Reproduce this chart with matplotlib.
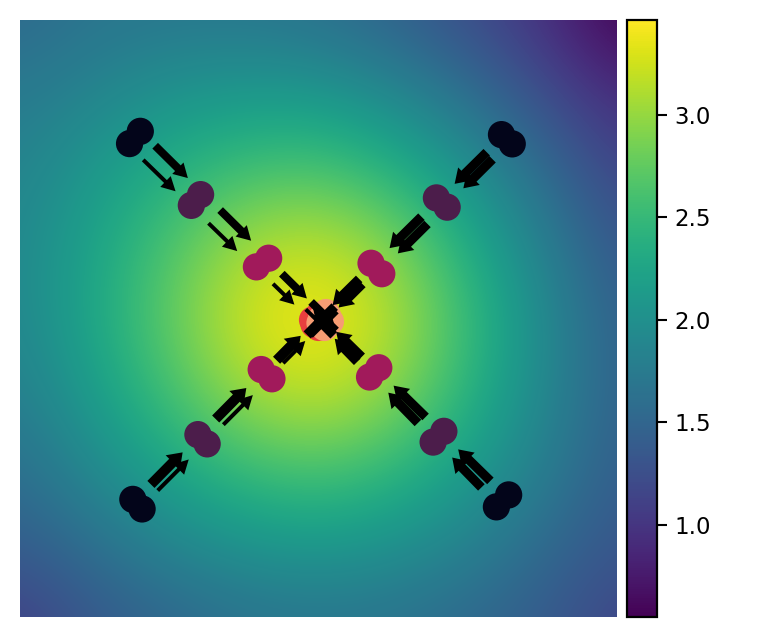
import numpy as np
import matplotlib
matplotlib.use("Agg")
import matplotlib.pyplot as plt
import seaborn as sns

# ---------------- data ----------------
# background field sampled on a 9x9 grid, x = -1..1 (step .25), rows from y=+1 (top) to y=-1 (bottom)
field_rows = [
    [1.55, 1.68, 1.71, 1.71, 1.64, 1.48, 1.24, 0.97, 0.55],
    [1.74, 1.87, 2.04, 2.11, 2.09, 1.91, 1.63, 1.25, 0.92],
    [1.84, 2.10, 2.36, 2.58, 2.64, 2.40, 2.01, 1.58, 1.14],
    [1.90, 2.24, 2.64, 3.07, 3.21, 2.92, 2.35, 1.81, 1.33],
    [1.89, 2.28, 2.76, 3.28, 3.46, 3.16, 2.54, 1.94, 1.44],
    [1.79, 2.16, 2.59, 3.05, 3.23, 2.97, 2.43, 1.91, 1.46],
    [1.61, 1.94, 2.26, 2.54, 2.66, 2.49, 2.16, 1.79, 1.41],
    [1.41, 1.63, 1.89, 2.06, 2.13, 2.04, 1.85, 1.57, 1.33],
    [1.10, 1.36, 1.51, 1.64, 1.69, 1.65, 1.54, 1.39, 1.15],
]
field_min, field_max = 0.551, 3.463
cbar_ticks = [1.0, 1.5, 2.0, 2.5, 3.0]

# particle positions (TL a/b, TR a/b, BL a/b, BR a/b) at successive time steps
x_t0 = [-0.633, -0.597, 0.613, 0.649, -0.622, -0.591, 0.596, 0.637]
y_t0 = [0.586, 0.627, 0.616, 0.585, -0.606, -0.638, -0.631, -0.591]
x_t1 = [-0.426, -0.395, 0.395, 0.431, -0.404, -0.373, 0.384, 0.420]
y_t1 = [0.379, 0.415, 0.404, 0.373, -0.389, -0.420, -0.414, -0.378]
x_t2 = [-0.208, -0.167, 0.176, 0.212, -0.192, -0.156, 0.171, 0.202]
y_t2 = [0.173, 0.202, 0.185, 0.150, -0.171, -0.202, -0.196, -0.165]
x_t3 = [-0.020, 0.000, 0.000, 0.010, -0.015, 0.000, 0.005, 0.010]
y_t3 = [-0.005, 0.010, 0.000, -0.005, -0.020, -0.030, -0.025, 0.000]
x_t4 = [0.010, 0.025, 0.030, 0.040, 0.005, 0.020, 0.025, 0.035]
y_t4 = [0.000, 0.020, 0.010, -0.010, -0.015, -0.030, -0.025, -0.005]
time_steps = [0, 1, 2, 3, 4]

# arrow magnitude (length) per particle for each step, and arrow weight per particle
speed_s0 = [0.151, 0.154, 0.151, 0.138, 0.151, 0.147, 0.140, 0.151]
speed_s1 = [0.134, 0.146, 0.150, 0.140, 0.146, 0.140, 0.142, 0.150]
speed_s2 = [0.100, 0.118, 0.125, 0.112, 0.115, 0.105, 0.108, 0.120]
speed_s3 = [0.100, 0.110, 0.105, 0.095, 0.100, 0.090, 0.095, 0.105]
weight = [0.5, 1.0, 1.15, 1.15, 1.25, 0.5, 1.15, 1.15]

# ---------------- figure ----------------
W, H = 761, 637
fig = plt.figure(figsize=(W / 100, H / 100), dpi=100)
ax = fig.add_axes([20 / W, 20 / H, 597 / W, 597 / H])

field = np.array(field_rows)
im = ax.imshow(field, cmap="viridis", vmin=field_min, vmax=field_max,
               extent=[-1.125, 1.125, -1.125, 1.125], origin="upper",
               interpolation="bicubic", aspect="auto", zorder=0)
ax.set_xlim(-1, 1)
ax.set_ylim(-1, 1)
ax.axis("off")

rocket = sns.color_palette("rocket", as_cmap=True)
xs = [x_t0, x_t1, x_t2, x_t3, x_t4]
ys = [y_t0, y_t1, y_t2, y_t3, y_t4]
for t, xx, yy in zip(time_steps, xs, ys):
    ax.scatter(xx, yy, c=[t] * len(xx), cmap=rocket, vmin=0, vmax=5,
               s=385, edgecolors="none", zorder=2)

# arrows
px = 2.0 / 597.0  # data units per pixel
spread = [1.2, 1.2, 0.65, 0.65, 0.7, 0.7, 0.65, 0.65]
speeds = [speed_s0, speed_s1, speed_s2, speed_s3]
x0 = np.array(x_t0); y0 = np.array(y_t0)
x2 = np.array(x_t2); y2 = np.array(y_t2)
dirx = x2 - x0; diry = y2 - y0
nrm = np.hypot(dirx, diry)
dirx /= nrm; diry /= nrm
for s in range(4):
    xa = np.array(xs[s]); ya = np.array(ys[s])
    xb = np.array(xs[s + 1]); yb = np.array(ys[s + 1])
    mx = (xa + xb) / 2; my = (ya + yb) / 2
    for g in range(4):
        i, j = 2 * g, 2 * g + 1
        cx = (mx[i] + mx[j]) / 2; cy = (my[i] + my[j]) / 2
        for p in (i, j):
            ux, uy = dirx[p], diry[p]
            perp = (mx[p] - cx) * (-uy) + (my[p] - cy) * ux
            along = (mx[p] - cx) * ux + (my[p] - cy) * uy
            ax_ = cx + along * ux + spread[p] * perp * (-uy)
            ay_ = cy + along * uy + spread[p] * perp * ux
            L = speeds[s][p]
            w = weight[p] * 8 * px
            ax.arrow(ax_ - ux * L / 2, ay_ - uy * L / 2, ux * L, uy * L,
                     width=w, head_width=max(2.0 * w, 15 * px),
                     head_length=14 * px, length_includes_head=True,
                     color="black", lw=0, zorder=3)

# colorbar
cax = fig.add_axes([627 / W, 20 / H, 30 / W, 597 / H])
cb = fig.colorbar(im, cax=cax, ticks=cbar_ticks)
cb.ax.tick_params(labelsize=16.5, length=7.2, width=1.5, pad=5)
cb.outline.set_linewidth(1.6)
cb.ax.set_yticklabels([f"{v:.1f}" for v in cbar_ticks])

fig.savefig("out.png", dpi=100)
